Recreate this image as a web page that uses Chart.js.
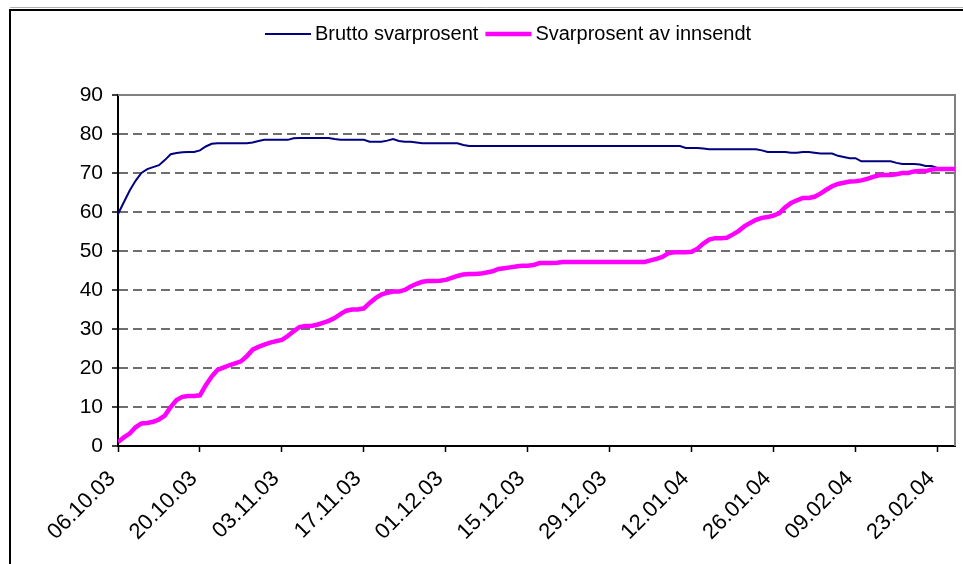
<!DOCTYPE html>
<html>
<head>
<meta charset="utf-8">
<script src="https://cdn.jsdelivr.net/npm/chart.js@4/dist/chart.umd.min.js"></script>
<style>
  html, body { margin: 0; padding: 0; background: #fff; }
  #wrap { position: relative; width: 963px; height: 564px; }
</style>
</head>
<body>
<div id="wrap"><canvas id="chart" width="963" height="564"></canvas></div>
<script>
// one value per day, 06.10.03 .. 26.02.04
const seriesNames = ["Brutto svarprosent", "Svarprosent av innsendt"];

const brutto = [
  59.5, 62.5, 65.5, 68, 70, 71, 71.5, 72, 73.3, 74.8,
  75.1, 75.3, 75.4, 75.4, 75.8, 76.8, 77.5, 77.6, 77.6, 77.6,
  77.6, 77.6, 77.6, 77.8, 78.2, 78.5, 78.5, 78.5, 78.5, 78.5,
  78.9, 79, 79, 79, 79, 79, 79, 78.7, 78.5, 78.5,
  78.5, 78.5, 78.5, 78, 78, 78, 78.3, 78.7, 78.2, 78,
  78, 77.8, 77.6, 77.6, 77.6, 77.6, 77.6, 77.6, 77.6, 77.2,
  76.9, 76.9, 76.9, 76.9, 76.9, 76.9, 76.9, 76.9, 76.9, 76.9,
  76.9, 76.9, 76.9, 76.9, 76.9, 76.9, 76.9, 76.9, 76.9, 76.9,
  76.9, 76.9, 76.9, 76.9, 76.9, 76.9, 76.9, 76.9, 76.9, 76.9,
  76.9, 76.9, 76.9, 76.9, 76.9, 76.9, 76.9, 76.4, 76.4, 76.4,
  76.3, 76.1, 76.1, 76.1, 76.1, 76.1, 76.1, 76.1, 76.1, 76.1,
  75.8, 75.4, 75.4, 75.4, 75.4, 75.2, 75.2, 75.4, 75.4, 75.2,
  75, 75, 75, 74.4, 74.1, 73.8, 73.8, 73, 73, 73,
  73, 73, 73, 72.6, 72.3, 72.3, 72.3, 72.2, 71.8, 71.8,
  71.3, 71, 71, 71
];

const innsendt = [
  1, 2.2, 3.2, 4.8, 5.8, 5.9, 6.2, 6.8, 7.8, 10,
  11.8, 12.6, 12.8, 12.8, 13, 15.6, 17.8, 19.5, 20.1, 20.7,
  21.2, 21.7, 23, 24.7, 25.4, 26, 26.5, 26.9, 27.2, 28.2,
  29.4, 30.5, 30.8, 30.8, 31.1, 31.6, 32.1, 32.8, 33.8, 34.7,
  35, 35, 35.3, 36.7, 37.9, 38.8, 39.3, 39.6, 39.6, 40,
  40.9, 41.6, 42.1, 42.3, 42.3, 42.4, 42.6, 43.1, 43.6, 44,
  44.1, 44.1, 44.2, 44.5, 44.8, 45.4, 45.6, 45.8, 46, 46.2,
  46.2, 46.4, 46.9, 46.9, 46.9, 47, 47.2, 47.2, 47.2, 47.2,
  47.2, 47.2, 47.2, 47.2, 47.2, 47.2, 47.2, 47.2, 47.2, 47.2,
  47.2, 47.6, 48, 48.5, 49.4, 49.7, 49.7, 49.7, 49.8, 50.6,
  51.9, 52.9, 53.3, 53.3, 53.4, 54.2, 55.1, 56.3, 57.2, 58,
  58.5, 58.7, 59.1, 59.7, 61.2, 62.3, 63, 63.6, 63.6, 63.9,
  64.7, 65.7, 66.6, 67.2, 67.5, 67.8, 67.9, 68.1, 68.5, 69,
  69.4, 69.5, 69.5, 69.7, 70, 70, 70.4, 70.5, 70.5, 70.9,
  71, 71, 71, 71
];

// a tick every 14 days
const xTickLabels = [
  "06.10.03", "20.10.03", "03.11.03", "17.11.03", "01.12.03", "15.12.03",
  "29.12.03", "12.01.04", "26.01.04", "09.02.04", "23.02.04"
];
const tickStep = 14;

const FONT = "'Liberation Sans', Arial, sans-serif";

const toPoints = (arr) => arr.map((v, i) => ({ x: i, y: v }));

const frame = {
  id: "frame",
  beforeDatasetsDraw(chart) {
    const { ctx, chartArea: a } = chart;
    ctx.save();
    ctx.strokeStyle = "#808080";
    ctx.lineWidth = 2;
    ctx.beginPath();
    ctx.moveTo(a.left, a.top);
    ctx.lineTo(a.right, a.top);
    ctx.lineTo(a.right, a.bottom);
    ctx.stroke();
    ctx.restore();
  },
  afterDraw(chart) {
    const { ctx, data } = chart;
    ctx.save();
    // outer box of the chart object
    ctx.strokeStyle = "#b0b0b0";
    ctx.lineWidth = 1;
    ctx.beginPath();
    ctx.moveTo(10, 7.5);
    ctx.lineTo(963, 7.5);
    ctx.stroke();
    ctx.strokeStyle = "#000";
    ctx.lineWidth = 2;
    ctx.beginPath();
    ctx.moveTo(10, 564);
    ctx.lineTo(10, 10);
    ctx.lineTo(963, 10);
    ctx.stroke();

    // legend
    ctx.font = "20px " + FONT;
    ctx.textBaseline = "middle";
    ctx.fillStyle = "#000";
    let x = 265;
    const y = 34;
    data.datasets.forEach((ds) => {
      ctx.strokeStyle = ds.borderColor;
      ctx.lineWidth = ds.borderWidth;
      ctx.beginPath();
      ctx.moveTo(x, y);
      ctx.lineTo(x + 46, y);
      ctx.stroke();
      ctx.fillText(ds.label, x + 50, y);
      x += 50 + ctx.measureText(ds.label).width + 7;
    });
    ctx.restore();
  }
};

new Chart(document.getElementById("chart"), {
  type: "line",
  data: {
    datasets: [
      {
        label: seriesNames[0],
        data: toPoints(brutto),
        borderColor: "#000080",
        borderWidth: 2,
        pointRadius: 0,
        tension: 0,
        order: 1
      },
      {
        label: seriesNames[1],
        data: toPoints(innsendt),
        borderColor: "#ff00ff",
        borderWidth: 4.5,
        pointRadius: 0,
        tension: 0,
        order: 0
      }
    ]
  },
  options: {
    responsive: false,
    animation: false,
    layout: { padding: { left: 0, top: 95, right: 8, bottom: 0 } },
    plugins: {
      legend: { display: false },
      tooltip: { enabled: false }
    },
    scales: {
      x: {
        type: "linear",
        min: 0,
        max: brutto.length - 1,
        afterFit: (scale) => {
          scale.height = 118;
          scale.paddingLeft = 0;
          scale.paddingRight = 0;
        },
        grid: {
          drawOnChartArea: false,
          tickLength: 6,
          tickColor: "#000",
          tickWidth: 1.5
        },
        border: { color: "#000", width: 2 },
        ticks: {
          stepSize: tickStep,
          includeBounds: false,
          autoSkip: false,
          minRotation: 45,
          maxRotation: 45,
          padding: 14,
          labelOffset: -6,
          color: "#000",
          font: { family: FONT, size: 22 },
          callback: (v) => xTickLabels[v / tickStep]
        }
      },
      y: {
        min: 0,
        max: 90,
        afterFit: (scale) => { scale.width = 118; },
        grid: {
          color: (c) => (c.tick && c.tick.value > 0 && c.tick.value < 90) ? "#6e6e6e" : "rgba(0,0,0,0)",
          lineWidth: 2,
          tickLength: 6,
          tickColor: "#000",
          tickWidth: 1.5
        },
        border: { color: "#000", width: 2, dash: [9, 5] },
        ticks: {
          stepSize: 10,
          padding: 9,
          color: "#000",
          font: { family: FONT, size: 21 }
        }
      }
    }
  },
  plugins: [frame]
});
</script>
</body>
</html>
